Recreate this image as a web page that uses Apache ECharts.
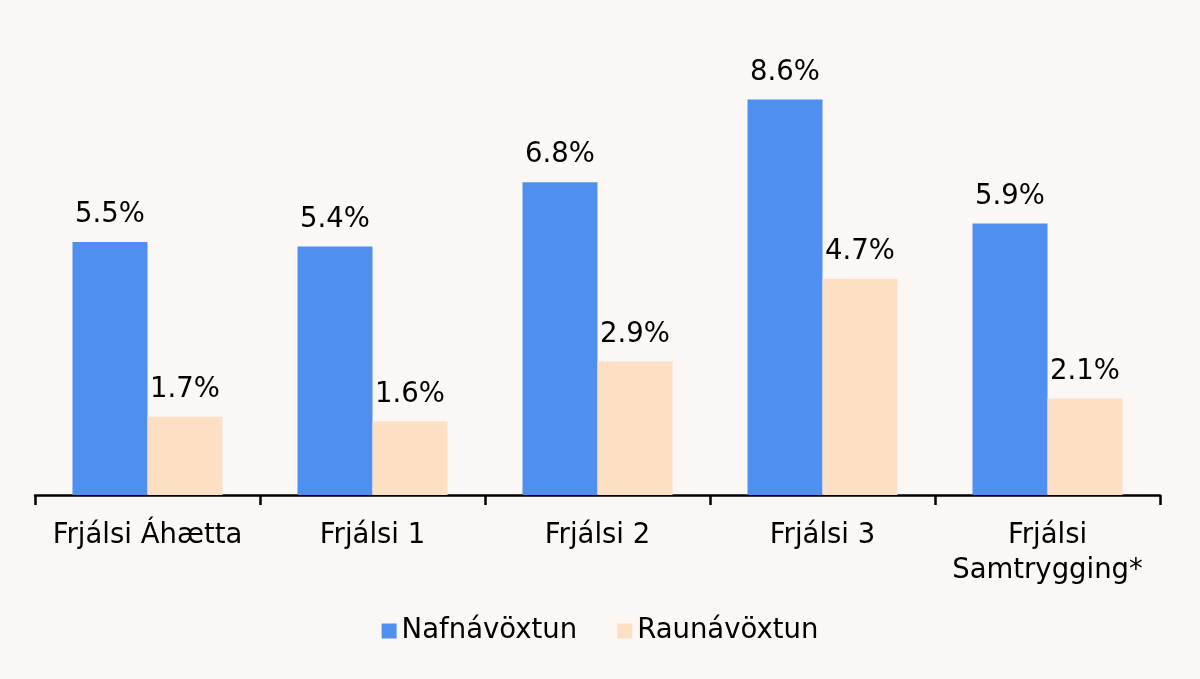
<!DOCTYPE html>
<html>
<head>
<meta charset="utf-8">
<script src="https://cdn.jsdelivr.net/npm/echarts@6/dist/echarts.min.js"></script>
<style>
html,body{margin:0;padding:0;background:#faf7f4;}
#c{width:1200px;height:679px;}
</style>
</head>
<body>
<div id="c"></div>
<script>
const categories = ['Frjálsi Áhætta', 'Frjálsi 1', 'Frjálsi 2', 'Frjálsi 3', 'Frjálsi\nSamtrygging*'];
const seriesNames = ['Nafnávöxtun', 'Raunávöxtun'];
const nafnavoxtun = [5.5, 5.4, 6.8, 8.6, 5.9];
const raunavoxtun = [1.7, 1.6, 2.9, 4.7, 2.1];

const chart = echarts.init(document.getElementById('c'));
const font = 'DejaVu Sans';
const fs = 27.5;
const labelCfg = {
  show: true, position: 'top', distance: 13,
  formatter: p => p.value.toFixed(1) + '%',
  fontFamily: font, fontSize: fs, color: '#000'
};
chart.setOption({
  backgroundColor: '#faf7f4',
  animation: false,
  textStyle: {fontFamily: font},
  grid: {left: 35, right: 40, top: 35, bottom: 184, containLabel: false},
  legend: {
    bottom: 29, left: 'center',
    itemWidth: 15, itemHeight: 15, itemGap: 40, itemStyle: {borderWidth: 0},
    icon: 'rect',
    textStyle: {fontFamily: font, fontSize: fs, color: '#000'},
    data: seriesNames
  },
  xAxis: {
    type: 'category', data: categories,
    axisLine: {lineStyle: {color: '#000', width: 2.5}},
    axisTick: {show: true, length: 10, lineStyle: {color: '#000', width: 2.5}},
    axisLabel: {fontFamily: font, fontSize: fs, color: '#000', margin: 23, lineHeight: 35, interval: 0}
  },
  yAxis: {
    type: 'value', min: 0, max: 10,
    show: false, splitLine: {show: false}
  },
  series: [
    {name: seriesNames[0], type: 'bar', data: nafnavoxtun, barWidth: 75, barGap: '0%',
     itemStyle: {color: '#4f8fef'}, label: labelCfg},
    {name: seriesNames[1], type: 'bar', data: raunavoxtun, barWidth: 75, barGap: '0%',
     itemStyle: {color: '#fddfc4'}, label: labelCfg}
  ]
});
</script>
</body>
</html>
